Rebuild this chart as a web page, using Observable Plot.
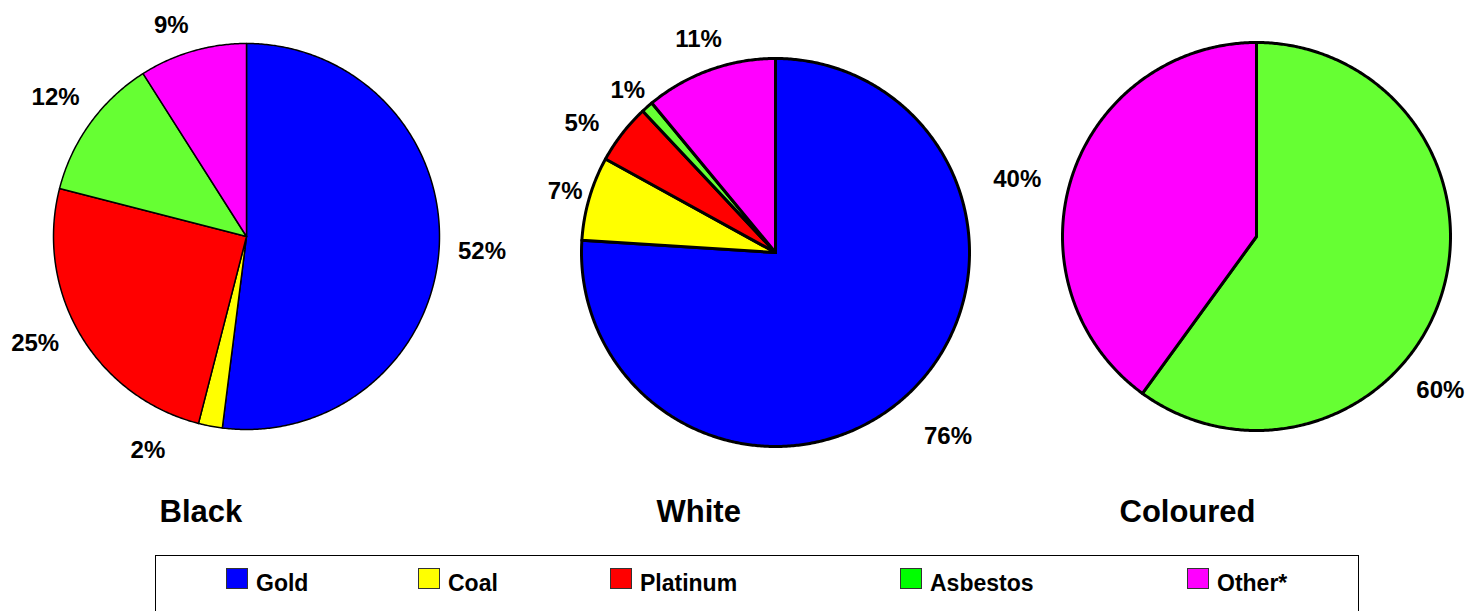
<!DOCTYPE html>
<html>
<head>
<meta charset="utf-8">
<script src="https://cdn.jsdelivr.net/npm/d3@7"></script>
<script src="https://cdn.jsdelivr.net/npm/@observablehq/plot@0.6"></script>
<style>
  body { margin: 0; background: #fff; font-family: "Liberation Sans", Arial, sans-serif; position: relative; width: 1467px; height: 611px; overflow: hidden; }
  #legend { position: absolute; left: 155px; top: 555px; width: 1204px; height: 70px; border: 1px solid #000; box-sizing: border-box; }
  .item { position: absolute; top: 14px; display: flex; align-items: flex-start; font-weight: bold; font-size: 23px; line-height: 26px; color: #000; }
  .sw { width: 22px; height: 21px; margin-top: -2px; border: 1px solid #333; box-sizing: border-box; margin-right: 8px; }
</style>
</head>
<body>
<div id="chart"></div>
<div id="legend"></div>
<script>
// Employment by mineral, share of each population group (%)
const minerals = ["Gold", "Coal", "Platinum", "Asbestos", "Other*"];
const groups = ["Black", "White", "Coloured"];
const blackShares = [52, 2, 25, 12, 9];
const whiteShares = [76, 7, 5, 1, 11];
const colouredShares = [0, 0, 0, 60, 40];
const shares = [blackShares, whiteShares, colouredShares];

// Colours
const sliceColors = ["#0000FF", "#FFFF00", "#FF0000", "#66FF33", "#FF00FF"];
const legendColors = ["#0000FF", "#FFFF00", "#FF0000", "#00FF00", "#FF00FF"];

// Layout (pixel space of the SVG)
const W = 1467, H = 540;
const layout = {
  Black:    {cx: 246,  cy: 236, r: 193, stroke: 1.5, titleX: 159},
  White:    {cx: 775,  cy: 252, r: 194, stroke: 3,   titleX: 656},
  Coloured: {cx: 1256, cy: 236, r: 194, stroke: 3,   titleX: 1119}
};
// Label placement: angular shift (deg) from slice middle and distance from centre
const labelPlacement = {
  Black:    {shift: [0, 14, 3.7, 0, -3.4], dist: [236, 235, 237, 236, 224]},
  White:    {shift: [0, 0, -4, -1, 0],     dist: [252, 219, 233, 219, 227]},
  Coloured: {shift: [0, 0, 0, 22, -4.6],   dist: [0, 0, 0, 240, 246]}
};
const legendX = [70, 262, 454, 744, 1031];

const slicePts = [];
const labels = [];
groups.forEach((g, gi) => {
  const L = layout[g];
  const vals = shares[gi];
  const total = d3.sum(vals);
  let acc = 0;
  vals.forEach((v, i) => {
    if (!v) return;
    const a0 = acc / total * 2 * Math.PI;
    const a1 = (acc + v) / total * 2 * Math.PI;
    acc += v;
    const key = g + "-" + minerals[i];
    const n = Math.max(2, Math.ceil((a1 - a0) / (Math.PI / 360)));
    slicePts.push({key, group: g, color: sliceColors[i], x: L.cx, y: L.cy});
    for (let k = 0; k <= n; k++) {
      const a = a0 + (a1 - a0) * k / n;
      slicePts.push({key, group: g, color: sliceColors[i], x: L.cx + L.r * Math.sin(a), y: L.cy - L.r * Math.cos(a)});
    }
    slicePts.push({key, group: g, color: sliceColors[i], x: L.cx, y: L.cy});
    const P = labelPlacement[g];
    const am = (a0 + a1) / 2 + P.shift[i] * Math.PI / 180;
    labels.push({x: L.cx + P.dist[i] * Math.sin(am), y: L.cy - P.dist[i] * Math.cos(am), text: v + "%"});
  });
});

const marks = groups.map(g => Plot.line(slicePts.filter(d => d.group === g), {
  x: "x", y: "y", z: "key", fill: "color", stroke: "#000",
  strokeWidth: layout[g].stroke, strokeLinejoin: "round", curve: "linear"
}));
marks.push(Plot.text(labels, {
  x: "x", y: "y", text: "text", fontSize: 24, fontWeight: "bold", fill: "#000",
  fontFamily: "Liberation Sans"
}));
marks.push(Plot.text(groups, {
  x: g => layout[g].titleX, y: () => 512, text: g => g, textAnchor: "start",
  fontSize: 31, fontWeight: "bold", fill: "#000", fontFamily: "Liberation Sans"
}));

const chart = Plot.plot({
  width: W, height: H,
  margin: 0,
  x: {domain: [0, W], range: [0, W], axis: null},
  y: {domain: [0, H], range: [0, H], axis: null},
  color: {type: "identity"},
  style: {background: "#fff", fontFamily: "Liberation Sans", overflow: "visible"},
  marks
});
document.getElementById("chart").append(chart);

// Legend
const legend = document.getElementById("legend");
minerals.forEach((m, i) => {
  const item = document.createElement("div");
  item.className = "item";
  item.style.left = legendX[i] + "px";
  const sw = document.createElement("div");
  sw.className = "sw";
  sw.style.background = legendColors[i];
  const t = document.createElement("span");
  t.textContent = m;
  item.append(sw, t);
  legend.append(item);
});
</script>
</body>
</html>
